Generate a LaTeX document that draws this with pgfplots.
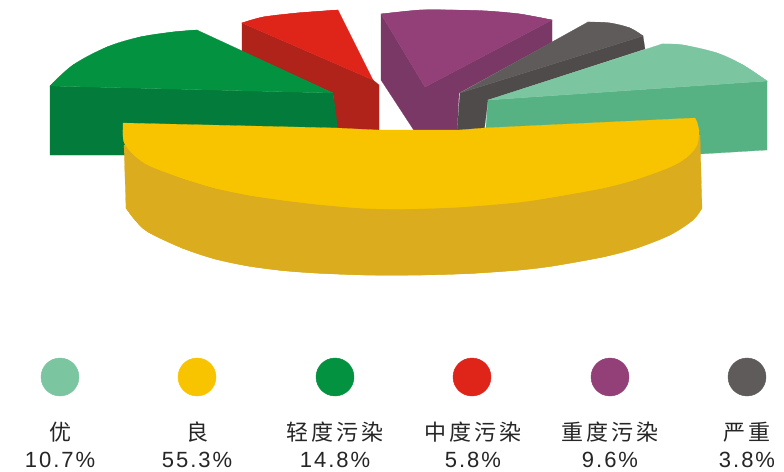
\documentclass[border=0pt]{standalone}
\usepackage{fontspec}
\setmainfont{Liberation Sans}
\newfontfamily\cjk[LetterSpace=13]{Noto Sans CJK SC}
\newfontfamily\num[LetterSpace=9]{Liberation Sans}
\usepackage{pgfplots}
\pgfplotsset{compat=1.18}

\definecolor{mint}{HTML}{7BC5A0}
\definecolor{mintd}{HTML}{56B283}
\definecolor{yel}{HTML}{F8C400}
\definecolor{yeld}{HTML}{DBAC1E}
\definecolor{grn}{HTML}{03923F}
\definecolor{grnd}{HTML}{037B3A}
\definecolor{rd}{HTML}{DF241A}
\definecolor{rdd}{HTML}{AF231A}
\definecolor{pur}{HTML}{934079}
\definecolor{purd}{HTML}{7A3866}
\definecolor{gry}{HTML}{5F5B5A}
\definecolor{gryd}{HTML}{4E4B4A}

\pgfplotsset{
  face/.style={fill=#1, draw=#1, line width=0.2pt, mark=none},
  arc/.style={face=#1, smooth, tension=0.6},
  dot/.style={only marks, mark=*, mark size=19pt, mark options={fill=#1, draw=#1}},
}
\newcommand{\lab}[3]{%
  \node[font=\fontsize{22}{22}\selectfont\cjk, text=black!85] at (axis cs:#1,432) {#2};
  \node[font=\fontsize{22}{22}\selectfont\num, text=black!85] at (axis cs:#1,460) {#3};
}

\begin{document}
\begin{tikzpicture}
\begin{axis}[
    scale only axis, width=784pt, height=471pt,
    xmin=0, xmax=784, ymin=0, ymax=471,
    y dir=reverse, hide axis, clip=true,
]
% white page, keeps the bounding box at full size
\addplot[fill=white, draw=none] coordinates {(0,0)(784,0)(784,471)(0,471)} --cycle;
% red slice
\addplot[face=rdd] coordinates {(242,23)(373,80)(379,85)(379,130)(337,130)(333,93)(242,52)} --cycle;
\addplot[arc=rd] coordinates {(242,23)(263,17)(297,13)(338,10)} --cycle;
\addplot[face=rd] coordinates {(242,23)(263,17)(297,13)(338,10)(373,80)} --cycle;
% green slice
\addplot[face=grnd] coordinates {(50,86)(333,93)(338,130)(338,155)(50,155)} --cycle;
\addplot[arc=grn] coordinates {(50,86)(73,65)(107,47)(140,37)(173,32)(197,30)} --cycle;
\addplot[face=grn] coordinates {(50,86)(73,65)(107,47)(140,37)(173,32)(197,30)(333,93)} --cycle;
% purple slice
\addplot[face=purd] coordinates {(381,14)(425,87)(425,132)(415,132)(381,80)} --cycle;
\addplot[face=purd] coordinates {(425,87)(552,20)(552,42)(459,93)(457,132)(425,132)} --cycle;
\addplot[arc=pur] coordinates {(381,14)(420,10)(453,10)(487,11)(520,14)(552,20)} --cycle;
\addplot[face=pur] coordinates {(381,14)(420,10)(453,10)(487,11)(520,14)(552,20)(425,87)} --cycle;
% dark grey slice
\addplot[face=gryd] coordinates {(460,93)(643,36)(645,49)(488,100)(484,132)(457,132)} --cycle;
\addplot[arc=gry] coordinates {(588,22)(610,23)(630,28)(643,36)} --cycle;
\addplot[face=gry] coordinates {(460,93)(588,22)(610,23)(630,28)(643,36)} --cycle;
% mint slice
\addplot[face=mintd] coordinates {(488,100)(767,81)(767,150)(700,154)(484,154)} --cycle;
\addplot[arc=mint] coordinates {(662,44)(683,45)(717,53)(743,65)(767,81)} --cycle;
\addplot[face=mint] coordinates {(488,100)(662,44)(683,45)(717,53)(743,65)(767,81)} --cycle;
% yellow slice
\addplot[arc=yeld] coordinates {(126,208)(135,220)(148,232)(182,248)(215,259)(248,266)(282,270.5)(315,273)(365,275)(421,275)(470,273.5)(520,270)(553,266)(603,257)(637,248)(670,235)(693,220)(702,208)} --cycle;
\addplot[face=yeld] coordinates {(124,145)(126,208)(135,220)(148,232)(182,248)(215,259)(248,266)(282,270.5)(315,273)(365,275)(421,275)(470,273.5)(520,270)(553,266)(603,257)(637,248)(670,235)(693,220)(702,208)(700,135)} --cycle;
\addplot[arc=yel] coordinates {(123,130)(124,142)(132,153)(148,165)(182,178)(215,188)(248,195)(282,200)(315,204)(360,208)(402,209)(460,207)(520,202)(553,197)(603,188)(637,179)(670,167)(687,157)(697,145)(699,130)} --cycle;
\addplot[face=yel] coordinates {(123,123)(337,128)(415,132)(425,133)(484,128)(695,118)(697,122)(699,130)(697,145)(687,157)(670,167)(637,179)(603,188)(553,197)(520,202)(460,207)(402,209)(360,208)(315,204)(282,200)(248,195)(215,188)(182,178)(148,165)(132,153)(124,142)(123,130)} --cycle;
% legend dots
\addplot[dot=mint] coordinates {(60,377)};
\addplot[dot=yel] coordinates {(197,377)};
\addplot[dot=grn] coordinates {(335,377)};
\addplot[dot=rd] coordinates {(472,377)};
\addplot[dot=pur] coordinates {(610,377)};
\addplot[dot=gry] coordinates {(747,377)};
\lab{60}{优}{10.7\%}
\lab{197}{良}{55.3\%}
\lab{335}{轻度污染}{14.8\%}
\lab{473}{中度污染}{5.8\%}
\lab{610}{重度污染}{9.6\%}
\lab{747}{严重}{3.8\%}
\end{axis}
\end{tikzpicture}
\end{document}
